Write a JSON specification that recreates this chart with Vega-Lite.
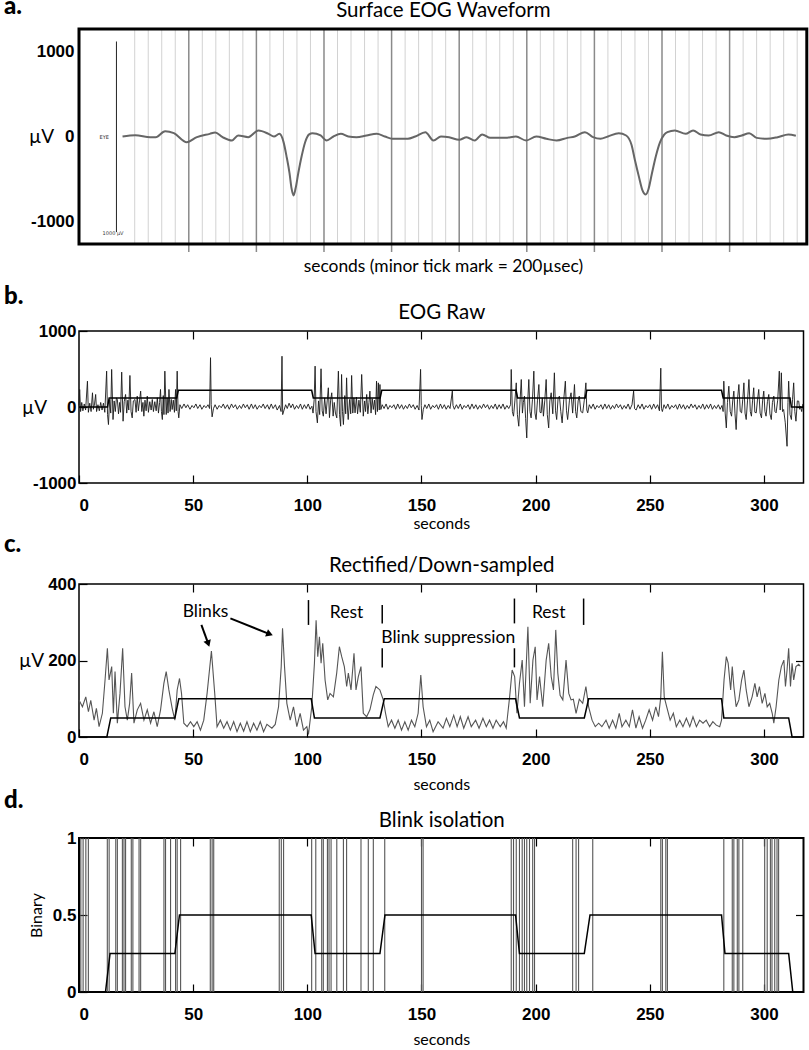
{
"$schema": "https://vega.github.io/schema/vega-lite/v6.json",
"background": "white",
"padding": {"left": 3, "top": -5, "right": 0, "bottom": 0},
"config": {
  "view": {"stroke": "black", "strokeWidth": 1.5},
  "axis": {"domain": false, "grid": false, "labelFont": "Liberation Sans", "labelFontWeight": "bold", "labelFontSize": 17, "labelColor": "black", "titleFont": "Lato", "titleFontWeight": "normal", "titleColor": "black", "tickColor": "black", "tickWidth": 1.2},
  "title": {"font": "Lato", "fontWeight": 900, "fontSize": 24, "color": "black", "anchor": "start", "frame": "group", "dx": -75, "baseline": "bottom"}
},
"datasets": {
  "a_minor": [{"t":-0.8},{"t":-0.6},{"t":-0.4},{"t":-0.2},{"t":0.2},{"t":0.4},{"t":0.6},{"t":0.8},{"t":1.2},{"t":1.4},{"t":1.6},{"t":1.8},{"t":2.2},{"t":2.4},{"t":2.6},{"t":2.8},{"t":3.2},{"t":3.4},{"t":3.6},{"t":3.8},{"t":4.2},{"t":4.4},{"t":4.6},{"t":4.8},{"t":5.2},{"t":5.4},{"t":5.6},{"t":5.8},{"t":6.2},{"t":6.4},{"t":6.6},{"t":6.8},{"t":7.2},{"t":7.4},{"t":7.6},{"t":7.8},{"t":8.2},{"t":8.4},{"t":8.6},{"t":8.8},{"t":9.0}],
  "a_major": [{"t":0},{"t":1},{"t":2},{"t":3},{"t":4},{"t":5},{"t":6},{"t":7},{"t":8}],
  "a_bar": [{"t":-1.07,"lo":-1125,"hi":1118}],
  "a_txt": [{"t":-1.25,"v":0,"s":"EYE"},{"t":-1.12,"v":-1135,"s":"1000 µV"}],
  "a_wave": [{"t":-0.98,"v":0},{"t":-0.79,"v":16},{"t":-0.57,"v":-8},{"t":-0.49,"v":-8},{"t":-0.35,"v":63},{"t":-0.22,"v":39},{"t":-0.03,"v":-67},{"t":0.12,"v":-8},{"t":0.31,"v":31},{"t":0.39,"v":47},{"t":0.5,"v":-8},{"t":0.64,"v":-47},{"t":0.73,"v":12},{"t":0.88,"v":-8},{"t":1.03,"v":71},{"t":1.18,"v":31},{"t":1.26,"v":0},{"t":1.34,"v":31},{"t":1.4,"v":-60},{"t":1.45,"v":-250},{"t":1.49,"v":-430},{"t":1.52,"v":-610},{"t":1.55,"v":-694},{"t":1.58,"v":-610},{"t":1.62,"v":-430},{"t":1.67,"v":-230},{"t":1.72,"v":-70},{"t":1.78,"v":25},{"t":1.83,"v":39},{"t":1.95,"v":12},{"t":2.04,"v":-47},{"t":2.14,"v":0},{"t":2.25,"v":31},{"t":2.36,"v":0},{"t":2.48,"v":-8},{"t":2.63,"v":12},{"t":2.78,"v":31},{"t":2.9,"v":0},{"t":3.01,"v":-27},{"t":3.24,"v":-27},{"t":3.35,"v":0},{"t":3.5,"v":51},{"t":3.62,"v":-47},{"t":3.73,"v":0},{"t":3.85,"v":-8},{"t":4.0,"v":-39},{"t":4.11,"v":-8},{"t":4.23,"v":-47},{"t":4.34,"v":24},{"t":4.46,"v":-16},{"t":4.68,"v":-16},{"t":4.84,"v":0},{"t":4.99,"v":-47},{"t":5.14,"v":0},{"t":5.29,"v":-27},{"t":5.44,"v":-47},{"t":5.6,"v":-16},{"t":5.71,"v":0},{"t":5.86,"v":51},{"t":5.98,"v":-8},{"t":6.09,"v":-27},{"t":6.2,"v":0},{"t":6.36,"v":39},{"t":6.47,"v":12},{"t":6.55,"v":-100},{"t":6.6,"v":-280},{"t":6.66,"v":-478},{"t":6.71,"v":-630},{"t":6.76,"v":-682},{"t":6.8,"v":-620},{"t":6.85,"v":-439},{"t":6.91,"v":-230},{"t":6.97,"v":-70},{"t":7.03,"v":20},{"t":7.08,"v":51},{"t":7.19,"v":71},{"t":7.35,"v":31},{"t":7.46,"v":71},{"t":7.57,"v":24},{"t":7.69,"v":12},{"t":7.84,"v":51},{"t":7.95,"v":12},{"t":8.07,"v":-8},{"t":8.18,"v":12},{"t":8.29,"v":39},{"t":8.4,"v":-16},{"t":8.55,"v":-27},{"t":8.71,"v":-8},{"t":8.87,"v":24},{"t":8.98,"v":8}],
  "b_step": [{"t":0,"v":0},{"t":12.5,"v":0},{"t":13.2,"v":120},{"t":42.8,"v":120},{"t":43.5,"v":220},{"t":101.9,"v":220},{"t":102.6,"v":120},{"t":131.9,"v":120},{"t":132.6,"v":220},{"t":191.4,"v":220},{"t":192.1,"v":120},{"t":221.7,"v":120},{"t":222.4,"v":220},{"t":281.4,"v":220},{"t":282.1,"v":120},{"t":311.4,"v":120},{"t":312.0,"v":0},{"t":317.3,"v":0}],
  "b_raw": [{"t":0,"v":20},{"t":0.3,"v":230},{"t":0.7,"v":-60},{"t":1.2,"v":60},{"t":1.7,"v":-50},{"t":2.3,"v":40},{"t":2.9,"v":-40},{"t":3.7,"v":340},{"t":4.1,"v":-70},{"t":4.7,"v":50},{"t":5.3,"v":-60},{"t":5.9,"v":187},{"t":6.3,"v":-30},{"t":6.8,"v":40},{"t":7.3,"v":165},{"t":7.7,"v":-60},{"t":8.3,"v":30},{"t":8.9,"v":-50},{"t":9.5,"v":60},{"t":10.1,"v":-40},{"t":10.7,"v":50},{"t":11.3,"v":-70},{"t":12.1,"v":472},{"t":12.5,"v":-100},{"t":12.9,"v":-231},{"t":13.4,"v":100},{"t":13.9,"v":-80},{"t":14.3,"v":494},{"t":14.9,"v":-165},{"t":15.4,"v":80},{"t":15.9,"v":-60},{"t":16.4,"v":120},{"t":16.8,"v":99},{"t":17.3,"v":-90},{"t":17.8,"v":60},{"t":18.2,"v":-70},{"t":18.7,"v":459},{"t":19.3,"v":-187},{"t":19.8,"v":70},{"t":20.4,"v":165},{"t":20.9,"v":-80},{"t":21.4,"v":90},{"t":21.8,"v":-40},{"t":22.3,"v":415},{"t":22.8,"v":-60},{"t":23.3,"v":-143},{"t":23.8,"v":80},{"t":24.5,"v":99},{"t":25.0,"v":-70},{"t":25.5,"v":143},{"t":26.0,"v":-50},{"t":26.5,"v":80},{"t":27.0,"v":209},{"t":27.5,"v":-60},{"t":28.0,"v":60},{"t":28.4,"v":-121},{"t":28.9,"v":90},{"t":29.4,"v":-50},{"t":29.9,"v":143},{"t":30.4,"v":-70},{"t":31.0,"v":70},{"t":31.6,"v":-40},{"t":32.1,"v":99},{"t":32.6,"v":-60},{"t":33.2,"v":70},{"t":33.8,"v":-50},{"t":34.3,"v":121},{"t":34.8,"v":-80},{"t":35.3,"v":60},{"t":35.7,"v":231},{"t":36.1,"v":-60},{"t":36.5,"v":-165},{"t":36.9,"v":150},{"t":37.2,"v":-100},{"t":37.6,"v":472},{"t":38.2,"v":-99},{"t":38.6,"v":120},{"t":39.0,"v":-80},{"t":39.4,"v":231},{"t":39.9,"v":-60},{"t":40.4,"v":100},{"t":40.8,"v":-33},{"t":41.3,"v":90},{"t":41.8,"v":-70},{"t":42.3,"v":231},{"t":42.6,"v":-50},{"t":43.0,"v":472},{"t":43.4,"v":-60},{"t":43.7,"v":-143},{"t":44.2,"v":30},{"t":45.0,"v":-20},{"t":46.0,"v":40},{"t":46.8,"v":-10},{"t":47.6,"v":30},{"t":48.6,"v":-30},{"t":49.5,"v":20},{"t":50.3,"v":-10},{"t":51.2,"v":40},{"t":52.0,"v":-20},{"t":53.0,"v":30},{"t":53.8,"v":-30},{"t":54.8,"v":20},{"t":55.6,"v":-10},{"t":56.5,"v":30},{"t":57.2,"v":-20},{"t":57.6,"v":649},{"t":57.9,"v":30},{"t":58.3,"v":-130},{"t":58.9,"v":-20},{"t":59.6,"v":30},{"t":60.5,"v":-30},{"t":61.4,"v":20},{"t":62.3,"v":-10},{"t":63.2,"v":40},{"t":64.0,"v":-20},{"t":65.0,"v":30},{"t":65.8,"v":-30},{"t":66.8,"v":40},{"t":67.6,"v":-10},{"t":68.5,"v":30},{"t":69.3,"v":-30},{"t":70.3,"v":20},{"t":71.1,"v":-20},{"t":72.0,"v":40},{"t":72.8,"v":-10},{"t":73.7,"v":30},{"t":74.5,"v":-30},{"t":75.5,"v":40},{"t":76.3,"v":-20},{"t":77.2,"v":30},{"t":78.0,"v":-30},{"t":79.0,"v":20},{"t":79.8,"v":-10},{"t":80.7,"v":40},{"t":81.5,"v":-20},{"t":82.5,"v":30},{"t":83.3,"v":-30},{"t":84.2,"v":40},{"t":85.0,"v":-20},{"t":86.0,"v":30},{"t":86.8,"v":-40},{"t":87.8,"v":20},{"t":88.5,"v":-60},{"t":88.9,"v":668},{"t":89.2,"v":-100},{"t":89.8,"v":-40},{"t":90.5,"v":30},{"t":91.2,"v":-20},{"t":92.0,"v":50},{"t":92.8,"v":-10},{"t":93.6,"v":40},{"t":94.4,"v":-30},{"t":95.3,"v":20},{"t":96.1,"v":-20},{"t":97.0,"v":40},{"t":97.8,"v":-30},{"t":98.7,"v":30},{"t":99.5,"v":-20},{"t":100.4,"v":40},{"t":101.2,"v":-30},{"t":102.0,"v":10},{"t":102.5,"v":-80},{"t":103.0,"v":100},{"t":103.4,"v":538},{"t":103.8,"v":-60},{"t":104.4,"v":-209},{"t":104.9,"v":80},{"t":105.4,"v":-100},{"t":106.0,"v":503},{"t":106.5,"v":-50},{"t":107.0,"v":-121},{"t":107.6,"v":120},{"t":108.2,"v":-90},{"t":108.7,"v":80},{"t":109.2,"v":253},{"t":109.7,"v":-140},{"t":110.2,"v":90},{"t":110.7,"v":187},{"t":111.3,"v":-120},{"t":111.8,"v":60},{"t":112.3,"v":-80},{"t":112.9,"v":-143},{"t":113.6,"v":472},{"t":114.1,"v":-100},{"t":114.6,"v":-253},{"t":115.0,"v":428},{"t":115.4,"v":-60},{"t":115.8,"v":-231},{"t":116.4,"v":150},{"t":116.8,"v":-90},{"t":117.2,"v":384},{"t":117.6,"v":-40},{"t":117.9,"v":-165},{"t":118.5,"v":100},{"t":119.0,"v":-90},{"t":119.4,"v":415},{"t":119.9,"v":-80},{"t":120.4,"v":120},{"t":120.9,"v":-77},{"t":121.5,"v":130},{"t":122.0,"v":-90},{"t":122.6,"v":90},{"t":123.2,"v":-70},{"t":123.8,"v":428},{"t":124.5,"v":-121},{"t":125.1,"v":80},{"t":125.5,"v":-60},{"t":126.0,"v":165},{"t":126.5,"v":-90},{"t":127.0,"v":60},{"t":127.4,"v":209},{"t":127.9,"v":-80},{"t":128.4,"v":110},{"t":128.9,"v":-33},{"t":129.4,"v":90},{"t":129.9,"v":-100},{"t":130.3,"v":340},{"t":130.7,"v":-60},{"t":131.1,"v":318},{"t":131.5,"v":-40},{"t":131.8,"v":296},{"t":132.2,"v":-33},{"t":132.8,"v":30},{"t":133.6,"v":-20},{"t":134.5,"v":40},{"t":135.3,"v":-30},{"t":136.2,"v":20},{"t":137.0,"v":-10},{"t":137.9,"v":30},{"t":138.7,"v":-30},{"t":139.6,"v":40},{"t":140.4,"v":-20},{"t":141.3,"v":30},{"t":142.1,"v":-30},{"t":143.0,"v":20},{"t":143.8,"v":-20},{"t":144.7,"v":40},{"t":145.5,"v":-10},{"t":146.4,"v":30},{"t":147.2,"v":-30},{"t":148.1,"v":20},{"t":148.9,"v":-40},{"t":149.6,"v":495},{"t":149.9,"v":20},{"t":150.2,"v":-165},{"t":150.8,"v":-30},{"t":151.5,"v":30},{"t":152.3,"v":-20},{"t":153.2,"v":40},{"t":154.0,"v":-30},{"t":154.9,"v":20},{"t":155.7,"v":-10},{"t":156.6,"v":30},{"t":157.4,"v":-30},{"t":158.3,"v":40},{"t":159.1,"v":-20},{"t":160.0,"v":30},{"t":160.8,"v":-30},{"t":161.7,"v":20},{"t":162.5,"v":-20},{"t":163.5,"v":209},{"t":163.8,"v":20},{"t":164.4,"v":-30},{"t":165.3,"v":30},{"t":166.1,"v":-20},{"t":167.0,"v":40},{"t":167.8,"v":-30},{"t":168.7,"v":20},{"t":169.5,"v":-10},{"t":170.4,"v":30},{"t":171.2,"v":-30},{"t":172.1,"v":40},{"t":172.9,"v":-20},{"t":173.8,"v":30},{"t":174.6,"v":-30},{"t":175.5,"v":20},{"t":176.3,"v":-20},{"t":177.2,"v":40},{"t":178.0,"v":-10},{"t":178.9,"v":30},{"t":179.7,"v":-30},{"t":180.6,"v":20},{"t":181.4,"v":-20},{"t":182.3,"v":40},{"t":183.1,"v":-30},{"t":184.0,"v":30},{"t":184.8,"v":-20},{"t":185.7,"v":40},{"t":186.5,"v":-30},{"t":187.4,"v":20},{"t":188.2,"v":-20},{"t":189.0,"v":30},{"t":189.3,"v":494},{"t":189.8,"v":-60},{"t":190.3,"v":-121},{"t":190.9,"v":80},{"t":191.5,"v":318},{"t":192.0,"v":-100},{"t":192.6,"v":-253},{"t":193.2,"v":100},{"t":193.7,"v":362},{"t":194.2,"v":-80},{"t":194.6,"v":60},{"t":195.1,"v":143},{"t":195.6,"v":-150},{"t":196.1,"v":-407},{"t":196.6,"v":120},{"t":197.0,"v":362},{"t":197.5,"v":-60},{"t":198.0,"v":-143},{"t":198.6,"v":100},{"t":199.2,"v":472},{"t":199.7,"v":-80},{"t":200.2,"v":-165},{"t":200.8,"v":90},{"t":201.4,"v":296},{"t":201.9,"v":-70},{"t":202.4,"v":-77},{"t":202.9,"v":120},{"t":203.4,"v":-121},{"t":204.0,"v":90},{"t":204.6,"v":362},{"t":205.1,"v":-100},{"t":205.7,"v":-275},{"t":206.2,"v":80},{"t":206.8,"v":187},{"t":207.5,"v":-90},{"t":208.2,"v":450},{"t":208.7,"v":-50},{"t":209.2,"v":-165},{"t":209.8,"v":110},{"t":210.4,"v":143},{"t":211.0,"v":-60},{"t":211.6,"v":-209},{"t":212.3,"v":100},{"t":213.0,"v":340},{"t":213.5,"v":-50},{"t":214.0,"v":-165},{"t":214.8,"v":90},{"t":215.5,"v":187},{"t":216.2,"v":-80},{"t":217.0,"v":296},{"t":217.5,"v":-60},{"t":218.0,"v":-143},{"t":218.6,"v":80},{"t":219.1,"v":143},{"t":219.8,"v":-60},{"t":220.6,"v":-77},{"t":221.3,"v":90},{"t":222.0,"v":318},{"t":222.4,"v":-40},{"t":222.8,"v":-77},{"t":223.5,"v":30},{"t":224.3,"v":-20},{"t":225.2,"v":40},{"t":226.0,"v":-30},{"t":226.9,"v":20},{"t":227.7,"v":-10},{"t":228.6,"v":30},{"t":229.4,"v":-30},{"t":230.3,"v":40},{"t":231.1,"v":-20},{"t":232.0,"v":30},{"t":232.8,"v":-30},{"t":233.7,"v":20},{"t":234.5,"v":-20},{"t":235.4,"v":40},{"t":236.2,"v":-10},{"t":237.1,"v":30},{"t":237.9,"v":-30},{"t":238.8,"v":20},{"t":239.6,"v":-20},{"t":240.5,"v":40},{"t":241.3,"v":-30},{"t":242.2,"v":30},{"t":242.9,"v":209},{"t":243.3,"v":-20},{"t":244.0,"v":-40},{"t":244.9,"v":30},{"t":245.7,"v":-20},{"t":246.6,"v":40},{"t":247.4,"v":-30},{"t":248.3,"v":20},{"t":249.1,"v":-10},{"t":250.0,"v":30},{"t":250.8,"v":-30},{"t":251.7,"v":40},{"t":252.5,"v":-20},{"t":253.4,"v":30},{"t":254.2,"v":-50},{"t":254.8,"v":511},{"t":255.1,"v":-20},{"t":255.5,"v":-60},{"t":256.2,"v":30},{"t":257.0,"v":-20},{"t":257.9,"v":40},{"t":258.7,"v":-30},{"t":259.6,"v":20},{"t":260.4,"v":-10},{"t":261.3,"v":30},{"t":262.1,"v":-30},{"t":263.0,"v":40},{"t":263.8,"v":-20},{"t":264.7,"v":30},{"t":265.5,"v":-30},{"t":266.4,"v":20},{"t":267.2,"v":-20},{"t":268.1,"v":40},{"t":268.9,"v":-10},{"t":269.8,"v":30},{"t":270.6,"v":-30},{"t":271.5,"v":20},{"t":272.3,"v":-20},{"t":273.2,"v":40},{"t":274.0,"v":-30},{"t":274.9,"v":30},{"t":275.7,"v":-20},{"t":276.6,"v":40},{"t":277.4,"v":-30},{"t":278.3,"v":20},{"t":279.1,"v":-20},{"t":280.0,"v":30},{"t":280.8,"v":-30},{"t":281.6,"v":20},{"t":282.1,"v":-60},{"t":282.4,"v":340},{"t":283.0,"v":-80},{"t":283.5,"v":-275},{"t":284.0,"v":60},{"t":284.6,"v":274},{"t":285.2,"v":-60},{"t":285.8,"v":-121},{"t":286.3,"v":80},{"t":286.8,"v":209},{"t":287.3,"v":-90},{"t":287.8,"v":-297},{"t":288.4,"v":100},{"t":289.0,"v":296},{"t":289.6,"v":-60},{"t":290.2,"v":-77},{"t":290.7,"v":100},{"t":291.2,"v":318},{"t":291.7,"v":-80},{"t":292.2,"v":-165},{"t":292.8,"v":90},{"t":293.4,"v":362},{"t":294.0,"v":-60},{"t":294.5,"v":-121},{"t":295.0,"v":90},{"t":295.5,"v":253},{"t":296.0,"v":-70},{"t":296.6,"v":-77},{"t":297.1,"v":80},{"t":297.7,"v":231},{"t":298.3,"v":-80},{"t":298.9,"v":-143},{"t":299.4,"v":90},{"t":299.9,"v":209},{"t":300.4,"v":-60},{"t":300.9,"v":-121},{"t":301.5,"v":70},{"t":302.1,"v":165},{"t":302.6,"v":-90},{"t":303.2,"v":-165},{"t":303.7,"v":60},{"t":304.3,"v":143},{"t":304.8,"v":-60},{"t":305.3,"v":-77},{"t":306.0,"v":90},{"t":306.7,"v":472},{"t":307.1,"v":-40},{"t":307.6,"v":450},{"t":308.1,"v":-60},{"t":308.6,"v":-33},{"t":309.3,"v":-200},{"t":310.1,"v":-517},{"t":310.5,"v":60},{"t":310.8,"v":340},{"t":311.4,"v":-100},{"t":312.0,"v":-165},{"t":312.5,"v":100},{"t":313.0,"v":318},{"t":313.5,"v":-60},{"t":314.0,"v":-187},{"t":314.6,"v":80},{"t":315.2,"v":77},{"t":315.6,"v":-30},{"t":315.9,"v":11},{"t":316.5,"v":-60},{"t":317.0,"v":40}],
  "c_step": [{"t":0,"v":0},{"t":12.2,"v":0},{"t":13.9,"v":50},{"t":42.0,"v":50},{"t":43.7,"v":100},{"t":101.7,"v":100},{"t":103.1,"v":50},{"t":131.8,"v":50},{"t":133.7,"v":100},{"t":191.2,"v":100},{"t":192.9,"v":50},{"t":221.3,"v":50},{"t":223.2,"v":100},{"t":281.4,"v":100},{"t":282.4,"v":50},{"t":310.8,"v":50},{"t":312.3,"v":0},{"t":317.3,"v":0}],
  "c_tr": [{"t":0,"v":97},{"t":1.51,"v":79},{"t":2.97,"v":105},{"t":4.13,"v":66},{"t":5.15,"v":96},{"t":6.61,"v":44},{"t":7.62,"v":75},{"t":8.79,"v":27},{"t":10.24,"v":62},{"t":11.41,"v":149},{"t":12.43,"v":232},{"t":13.16,"v":149},{"t":14.32,"v":184},{"t":15.05,"v":62},{"t":15.78,"v":171},{"t":16.79,"v":36},{"t":17.96,"v":114},{"t":19.12,"v":232},{"t":20.14,"v":79},{"t":21.16,"v":44},{"t":22.18,"v":88},{"t":23.05,"v":167},{"t":24.07,"v":36},{"t":25.53,"v":71},{"t":26.98,"v":88},{"t":28.44,"v":44},{"t":29.9,"v":71},{"t":31.35,"v":36},{"t":32.81,"v":66},{"t":34.26,"v":27},{"t":35.72,"v":71},{"t":37.17,"v":140},{"t":38.19,"v":171},{"t":39.36,"v":123},{"t":40.81,"v":75},{"t":41.98,"v":44},{"t":43.0,"v":123},{"t":44.02,"v":153},{"t":44.89,"v":114},{"t":45.91,"v":36},{"t":47.36,"v":27},{"t":48.82,"v":40},{"t":50.27,"v":27},{"t":51.73,"v":40},{"t":53.19,"v":18},{"t":54.64,"v":44},{"t":56.1,"v":114},{"t":57.99,"v":225},{"t":59.44,"v":114},{"t":60.46,"v":27},{"t":61.92,"v":44},{"t":63.37,"v":23},{"t":64.83,"v":40},{"t":66.29,"v":18},{"t":67.74,"v":40},{"t":69.2,"v":14},{"t":70.65,"v":36},{"t":72.11,"v":15},{"t":73.56,"v":40},{"t":75.02,"v":14},{"t":76.48,"v":36},{"t":77.93,"v":18},{"t":79.39,"v":40},{"t":80.84,"v":14},{"t":82.3,"v":33},{"t":84.48,"v":23},{"t":85.94,"v":33},{"t":87.39,"v":79},{"t":88.56,"v":184},{"t":89.14,"v":284},{"t":90.01,"v":184},{"t":91.03,"v":88},{"t":92.49,"v":44},{"t":93.94,"v":79},{"t":95.4,"v":27},{"t":96.85,"v":62},{"t":98.31,"v":18},{"t":99.77,"v":27},{"t":100.49,"v":7},{"t":101.95,"v":79},{"t":103.11,"v":193},{"t":103.84,"v":305},{"t":104.57,"v":210},{"t":105.3,"v":262},{"t":106.02,"v":193},{"t":106.75,"v":245},{"t":107.77,"v":149},{"t":108.93,"v":97},{"t":109.95,"v":114},{"t":111.41,"v":105},{"t":112.86,"v":167},{"t":114.03,"v":236},{"t":115.05,"v":210},{"t":116.21,"v":184},{"t":117.23,"v":132},{"t":117.96,"v":167},{"t":119.13,"v":123},{"t":120.44,"v":219},{"t":121.31,"v":123},{"t":122.33,"v":158},{"t":123.49,"v":184},{"t":124.51,"v":62},{"t":125.97,"v":53},{"t":127.42,"v":71},{"t":128.88,"v":110},{"t":130.04,"v":132},{"t":131.79,"v":123},{"t":133.24,"v":97},{"t":134.26,"v":62},{"t":135.43,"v":27},{"t":136.88,"v":44},{"t":138.34,"v":23},{"t":139.79,"v":44},{"t":141.25,"v":18},{"t":142.7,"v":40},{"t":144.16,"v":18},{"t":145.62,"v":44},{"t":147.07,"v":27},{"t":148.53,"v":62},{"t":149.69,"v":162},{"t":150.71,"v":79},{"t":152.17,"v":27},{"t":153.62,"v":44},{"t":155.08,"v":14},{"t":157.26,"v":40},{"t":159.44,"v":23},{"t":160.9,"v":49},{"t":162.4,"v":27},{"t":164.1,"v":57},{"t":165.6,"v":27},{"t":167.0,"v":53},{"t":168.5,"v":23},{"t":170.4,"v":53},{"t":171.8,"v":27},{"t":173.7,"v":44},{"t":175.2,"v":23},{"t":176.9,"v":49},{"t":178.4,"v":27},{"t":179.8,"v":44},{"t":181.3,"v":23},{"t":182.7,"v":44},{"t":184.5,"v":27},{"t":185.9,"v":40},{"t":187.1,"v":23},{"t":188.6,"v":105},{"t":189.7,"v":175},{"t":190.8,"v":158},{"t":191.8,"v":62},{"t":192.9,"v":140},{"t":194.1,"v":201},{"t":195.1,"v":79},{"t":196.6,"v":288},{"t":197.6,"v":88},{"t":198.8,"v":201},{"t":199.8,"v":236},{"t":200.6,"v":97},{"t":201.7,"v":158},{"t":203.1,"v":79},{"t":204.6,"v":201},{"t":205.7,"v":245},{"t":206.8,"v":158},{"t":207.8,"v":123},{"t":208.8,"v":280},{"t":209.7,"v":167},{"t":210.7,"v":109},{"t":211.9,"v":97},{"t":213.3,"v":201},{"t":214.5,"v":114},{"t":215.5,"v":97},{"t":216.5,"v":99},{"t":217.7,"v":62},{"t":219.1,"v":99},{"t":220.6,"v":88},{"t":222.0,"v":132},{"t":223.2,"v":79},{"t":224.7,"v":44},{"t":226.1,"v":27},{"t":227.6,"v":36},{"t":229.0,"v":27},{"t":230.8,"v":44},{"t":232.2,"v":23},{"t":233.7,"v":44},{"t":235.1,"v":23},{"t":236.6,"v":62},{"t":237.8,"v":27},{"t":239.5,"v":44},{"t":241.0,"v":27},{"t":242.4,"v":71},{"t":243.9,"v":23},{"t":245.3,"v":53},{"t":246.8,"v":23},{"t":248.2,"v":44},{"t":249.7,"v":71},{"t":251.2,"v":44},{"t":252.6,"v":79},{"t":253.8,"v":53},{"t":254.8,"v":105},{"t":255.5,"v":223},{"t":256.3,"v":105},{"t":257.4,"v":79},{"t":258.9,"v":44},{"t":260.3,"v":62},{"t":261.6,"v":27},{"t":263.1,"v":44},{"t":264.5,"v":27},{"t":266.0,"v":49},{"t":267.5,"v":27},{"t":268.9,"v":53},{"t":270.4,"v":27},{"t":271.8,"v":44},{"t":273.3,"v":36},{"t":274.7,"v":44},{"t":276.2,"v":27},{"t":277.6,"v":40},{"t":279.1,"v":31},{"t":280.6,"v":27},{"t":281.4,"v":44},{"t":282.5,"v":149},{"t":283.5,"v":210},{"t":284.3,"v":193},{"t":285.4,"v":123},{"t":286.1,"v":184},{"t":286.8,"v":132},{"t":287.8,"v":79},{"t":289.0,"v":97},{"t":290.2,"v":149},{"t":291.2,"v":175},{"t":292.2,"v":123},{"t":293.4,"v":79},{"t":294.8,"v":105},{"t":296.0,"v":140},{"t":297.0,"v":105},{"t":298.0,"v":132},{"t":299.2,"v":88},{"t":300.4,"v":114},{"t":301.4,"v":79},{"t":302.5,"v":88},{"t":303.6,"v":62},{"t":304.3,"v":36},{"t":305.3,"v":79},{"t":306.5,"v":149},{"t":307.6,"v":184},{"t":308.7,"v":201},{"t":309.4,"v":132},{"t":310.1,"v":175},{"t":310.8,"v":232},{"t":311.6,"v":132},{"t":312.3,"v":193},{"t":313.0,"v":149},{"t":314.0,"v":184},{"t":315.2,"v":190},{"t":315.9,"v":185}],
  "c_text": [{"t":55.4,"v":327,"s":"Blinks"},{"t":117.2,"v":323,"s":"Rest"},{"t":161.7,"v":258,"s":"Blink suppression"},{"t":205.7,"v":323,"s":"Rest"}],
  "c_bars": [{"t":100.5,"lo":293,"hi":358},{"t":132.8,"lo":297,"hi":345},{"t":132.8,"lo":182,"hi":232},{"t":190.7,"lo":297,"hi":362},{"t":190.7,"lo":182,"hi":232},{"t":221.0,"lo":293,"hi":362}],
  "c_arrows": [{"n":1,"t":53.6,"v":293,"t2":56.6,"v2":244},{"n":2,"t":66.3,"v":310,"t2":83.5,"v2":269}],
  "d_step": [{"t":0,"v":0},{"t":11.6,"v":0},{"t":13.6,"v":0.25},{"t":42.0,"v":0.25},{"t":44.0,"v":0.5},{"t":101.7,"v":0.5},{"t":103.4,"v":0.25},{"t":131.8,"v":0.25},{"t":134.0,"v":0.5},{"t":191.2,"v":0.5},{"t":192.9,"v":0.25},{"t":221.3,"v":0.25},{"t":223.8,"v":0.5},{"t":281.4,"v":0.5},{"t":282.9,"v":0.25},{"t":310.8,"v":0.25},{"t":312.6,"v":0},{"t":317.3,"v":0}],
  "d_edges": [{"t":0.8},{"t":1.8},{"t":3.0},{"t":4.1},{"t":12.4},{"t":13.2},{"t":16.1},{"t":16.8},{"t":19.0},{"t":19.7},{"t":20.4},{"t":22.9},{"t":23.6},{"t":26.3},{"t":27.0},{"t":37.2},{"t":37.9},{"t":40.1},{"t":42.3},{"t":43.0},{"t":44.5},{"t":57.5},{"t":58.3},{"t":59.0},{"t":87.7},{"t":88.6},{"t":89.6},{"t":101.9},{"t":103.7},{"t":106.3},{"t":107.0},{"t":108.8},{"t":109.5},{"t":110.4},{"t":112.9},{"t":115.8},{"t":117.2},{"t":123.5},{"t":126.7},{"t":128.9},{"t":133.9},{"t":150.0},{"t":150.7},{"t":189.3},{"t":190.3},{"t":191.5},{"t":192.9},{"t":194.1},{"t":195.1},{"t":196.1},{"t":197.3},{"t":198.7},{"t":199.5},{"t":216.2},{"t":217.7},{"t":218.8},{"t":225.0},{"t":254.8},{"t":255.5},{"t":257.0},{"t":257.7},{"t":282.4},{"t":286.1},{"t":286.8},{"t":288.3},{"t":289.0},{"t":290.7},{"t":300.3},{"t":301.4},{"t":302.8},{"t":303.5},{"t":304.7},{"t":305.7},{"t":306.4}]
},
"bounds": "flush",
"spacing": 101,
"vconcat": [
  {
    "width": 727.8, "height": 200.7,
    "view": {"stroke": null},
    "title": {"text": "a.", "offset": -19},
    "layer": [
      {"data": {"name": "a_minor"}, "mark": {"type": "rule", "color": "#d2d2d2", "strokeWidth": 1},
       "encoding": {"x": {"field": "t", "type": "quantitative", "scale": {"domain": [-1.624, 9.142], "nice": false, "zero": false},
         "axis": {"orient": "bottom", "ticks": false, "labels": false, "title": "seconds (minor tick mark = 200µsec)", "titleFontSize": 17.4, "titlePadding": 28}},
         "y": {"datum": -1265, "type": "quantitative", "scale": {"domain": [-1096.7, 1265], "nice": false, "zero": false}, "axis": null},
         "y2": {"datum": 1265}}},
      {"data": {"name": "a_major"}, "mark": {"type": "rule", "color": "#8a8a8a", "strokeWidth": 1.5},
       "encoding": {"x": {"field": "t", "type": "quantitative", "axis": {"orient": "top", "ticks": false, "labels": false, "title": "Surface EOG Waveform", "titleFontSize": 20.5, "titlePadding": 9}},
         "y": {"datum": -1359, "type": "quantitative", "axis": null},
         "y2": {"datum": 1265}}},
      {"data": {"name": "a_bar"}, "mark": {"type": "rule", "color": "#222", "strokeWidth": 1},
       "encoding": {"x": {"field": "t", "type": "quantitative", "axis": null},
         "y": {"field": "lo", "type": "quantitative", "axis": {"orient": "right", "ticks": false, "labels": false, "title": null}},
         "y2": {"field": "hi"}}},
      {"data": {"name": "a_wave"}, "mark": {"type": "line", "color": "#666", "strokeWidth": 2, "interpolate": "monotone"},
       "encoding": {"x": {"field": "t", "type": "quantitative", "axis": null},
         "y": {"field": "v", "type": "quantitative",
           "axis": {"orient": "left", "values": [-1000,0,1000], "labelExpr": "'' + datum.value", "ticks": false, "labelPadding": 5, "title": "µV", "titleAngle": 0, "titleAlign": "center", "titleBaseline": "middle", "titleX": -38, "titleY": 107.5, "titleFontSize": 19}}}},
      {"data": {"name": "a_txt"}, "mark": {"type": "text", "color": "#333", "font": "DejaVu Sans", "fontSize": 5},
       "encoding": {"x": {"field": "t", "type": "quantitative", "axis": null},
         "y": {"field": "v", "type": "quantitative", "axis": null},
         "text": {"field": "s"}}},
      {"data": {"name": "a_bar"}, "mark": {"type": "rect", "filled": false, "stroke": "black", "strokeWidth": 3},
       "encoding": {"x": {"datum": -1.624, "type": "quantitative", "axis": null}, "x2": {"datum": 9.142},
         "y": {"datum": -1265, "type": "quantitative", "axis": null}, "y2": {"datum": 1265}}}
    ]
  },
  {
    "width": 724.5, "height": 152,
    "title": {"text": "b.", "offset": -6},
    "layer": [
      {"data": {"name": "b_raw"}, "mark": {"type": "line", "color": "#1a1a1a", "strokeWidth": 0.9},
       "encoding": {
         "x": {"field": "t", "type": "quantitative", "scale": {"domain": [0, 317.3], "nice": false, "zero": false},
           "axis": {"orient": "bottom", "values": [0,50,100,150,200,250,300], "tickSize": -8, "labelPadding": 22, "title": "seconds", "titleFontSize": 16, "titlePadding": 2}},
         "y": {"field": "v", "type": "quantitative", "scale": {"domain": [-1000, 1000], "nice": false, "zero": false},
           "axis": {"orient": "left", "values": [-1000,0,1000], "labelExpr": "'' + datum.value", "tickSize": -8, "labelPadding": 11, "title": "µV", "titleAngle": 0, "titleAlign": "center", "titleBaseline": "middle", "titleX": -45, "titleY": 76, "titleFontSize": 19}}}},
      {"data": {"name": "b_step"}, "mark": {"type": "line", "color": "black", "strokeWidth": 1.5},
       "encoding": {
         "x": {"field": "t", "type": "quantitative", "axis": {"orient": "top", "values": [50,100,150,200,250,300], "labels": false, "tickSize": -8, "title": "EOG Raw", "titleFontSize": 20.5, "titlePadding": 7.7}},
         "y": {"field": "v", "type": "quantitative", "axis": {"orient": "right", "values": [0], "labels": false, "tickSize": -8, "title": null}}}}
    ]
  },
  {
    "width": 724.5, "height": 153,
    "title": {"text": "c.", "offset": -1},
    "layer": [
      {"data": {"name": "c_tr"}, "mark": {"type": "line", "color": "#555", "strokeWidth": 1.1},
       "encoding": {
         "x": {"field": "t", "type": "quantitative", "scale": {"domain": [0, 317.3], "nice": false, "zero": false},
           "axis": {"orient": "bottom", "values": [0,50,100,150,200,250,300], "tickSize": -8, "labelPadding": 22, "title": "seconds", "titleFontSize": 16, "titlePadding": 9}},
         "y": {"field": "v", "type": "quantitative", "scale": {"domain": [0, 400], "nice": false, "zero": false},
           "axis": {"orient": "left", "values": [0,200,400], "tickSize": -8, "labelPadding": 11, "title": "µV", "titleAngle": 0, "titleAlign": "center", "titleBaseline": "middle", "titleX": -48, "titleY": 76.5, "titleFontSize": 19}}}},
      {"data": {"name": "c_step"}, "mark": {"type": "line", "color": "black", "strokeWidth": 1.5},
       "encoding": {
         "x": {"field": "t", "type": "quantitative", "axis": {"orient": "top", "values": [50,100,150,200,250,300], "labels": false, "tickSize": -8, "title": "Rectified/Down-sampled", "titleFontSize": 20.5, "titlePadding": 7.7}},
         "y": {"field": "v", "type": "quantitative", "axis": {"orient": "right", "values": [200], "labels": false, "tickSize": -8, "title": null}}}},
      {"data": {"name": "c_bars"}, "mark": {"type": "rule", "color": "black", "strokeWidth": 1.5},
       "encoding": {"x": {"field": "t", "type": "quantitative", "axis": null}, "y": {"field": "lo", "type": "quantitative", "axis": null}, "y2": {"field": "hi"}}},
      {"data": {"name": "c_arrows"}, "mark": {"type": "rule", "color": "black", "strokeWidth": 2},
       "encoding": {"x": {"field": "t", "type": "quantitative", "axis": null}, "y": {"field": "v", "type": "quantitative", "axis": null}, "x2": {"field": "t2"}, "y2": {"field": "v2"}}},
      {"data": {"name": "c_arrows"}, "transform": [{"filter": "datum.n == 1"}],
       "mark": {"type": "point", "shape": "triangle-up", "filled": true, "color": "black", "opacity": 1, "size": 60, "angle": 161},
       "encoding": {"x": {"field": "t2", "type": "quantitative", "axis": null}, "y": {"field": "v2", "type": "quantitative", "axis": null}}},
      {"data": {"name": "c_arrows"}, "transform": [{"filter": "datum.n == 2"}],
       "mark": {"type": "point", "shape": "triangle-up", "filled": true, "color": "black", "opacity": 1, "size": 60, "angle": 112},
       "encoding": {"x": {"field": "t2", "type": "quantitative", "axis": null}, "y": {"field": "v2", "type": "quantitative", "axis": null}}},
      {"data": {"name": "c_text"}, "mark": {"type": "text", "font": "Lato", "fontSize": 17.5, "fontWeight": "normal", "color": "black"},
       "encoding": {"x": {"field": "t", "type": "quantitative", "axis": null}, "y": {"field": "v", "type": "quantitative", "axis": null}, "text": {"field": "s"}}}
    ]
  },
  {
    "width": 724.5, "height": 154,
    "view": {"stroke": "black", "strokeWidth": 2},
    "title": {"text": "d.", "offset": -3},
    "layer": [
      {"data": {"name": "d_edges"}, "mark": {"type": "rule", "color": "#555", "strokeWidth": 1.1},
       "encoding": {
         "x": {"field": "t", "type": "quantitative", "scale": {"domain": [0, 317.3], "nice": false, "zero": false},
           "axis": {"orient": "bottom", "values": [0,50,100,150,200,250,300], "tickSize": -8, "labelPadding": 22, "title": "seconds", "titleFontSize": 16, "titlePadding": 9}},
         "y": {"datum": 0, "type": "quantitative", "scale": {"domain": [0, 1], "nice": false, "zero": false}, "axis": null},
         "y2": {"datum": 1}}},
      {"data": {"name": "d_step"}, "mark": {"type": "line", "color": "black", "strokeWidth": 1.5},
       "encoding": {
         "x": {"field": "t", "type": "quantitative", "axis": {"orient": "top", "values": [50,100,150,200,250,300], "labels": false, "tickSize": -8, "title": "Blink isolation", "titleFontSize": 20.5, "titlePadding": 7}},
         "y": {"field": "v", "type": "quantitative", "axis": {"orient": "left", "values": [0,0.5,1], "format": "~g", "tickSize": -8, "labelPadding": 11, "title": "Binary", "titleFontSize": 16, "titlePadding": 8}}}},
      {"data": {"name": "d_step"}, "mark": {"type": "line", "opacity": 0},
       "encoding": {
         "x": {"field": "t", "type": "quantitative", "axis": null},
         "y": {"field": "v", "type": "quantitative", "axis": {"orient": "right", "values": [0.5], "labels": false, "tickSize": -8, "title": null}}}}
    ]
  }
]
}
